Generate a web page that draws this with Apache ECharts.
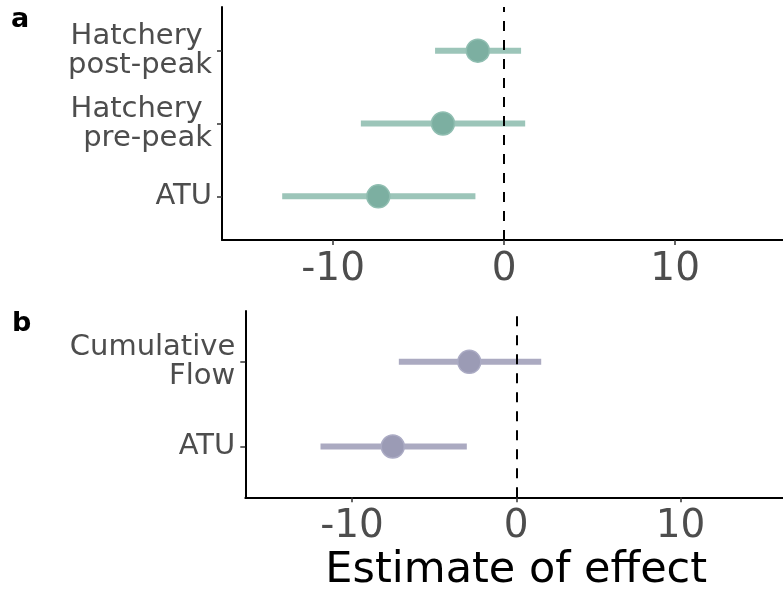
<!DOCTYPE html>
<html>
<head>
<meta charset="utf-8">
<script src="https://cdn.jsdelivr.net/npm/echarts@6/dist/echarts.min.js"></script>
<style>
  html, body { margin: 0; padding: 0; background: #fff; }
  #chart { width: 783px; height: 590px; }
</style>
</head>
<body>
<div id="chart"></div>
<script>
// Panel a: hatchery timing and ATU effects (bottom to top)
const catsA = ['ATU', 'Hatchery \npre-peak', 'Hatchery \npost-peak'];
const estA  = [-7.36, -3.58, -1.54];
const lowA  = [-12.98, -8.38, -4.04];
const highA = [-1.68, 1.23, 0.99];

// Panel b: flow and ATU effects (bottom to top)
const catsB = ['ATU', 'Cumulative\nFlow'];
const estB  = [-7.52, -2.86];
const lowB  = [-11.92, -7.15];
const highB = [-3.01, 1.52];

const xTicks = [-10, 0, 10];

const FONT = 'DejaVu Sans';

function xAxisFor(idx, extra) {
  return Object.assign({
    gridIndex: idx, type: 'value', min: -16.5, max: 16.5,
    axisLine: { show: true, onZero: false, lineStyle: { color: '#000', width: 2 } },
    axisTick: { show: true, customValues: xTicks, length: 5, lineStyle: { color: '#333', width: 1.5 } },
    axisLabel: { customValues: xTicks, fontSize: 39, color: '#4d4d4d', margin: 10, fontFamily: FONT },
    splitLine: { show: false }
  }, extra || {});
}

function yAxisFor(idx, cats) {
  const vals = cats.map((c, i) => i + 1);
  return {
    gridIndex: idx, type: 'value', min: 0.4, max: cats.length + 0.6,
    axisLine: { show: true, onZero: false, lineStyle: { color: '#000', width: 2 } },
    axisTick: { show: true, customValues: vals, length: 5, lineStyle: { color: '#333', width: 1.5 } },
    axisLabel: {
      customValues: vals,
      formatter: v => cats[Math.round(v) - 1],
      fontSize: 29, lineHeight: 29, color: '#4d4d4d', margin: 10, fontFamily: FONT, align: 'right',
      padding: [4, 0, 0, 0]
    },
    splitLine: { show: false }
  };
}

function intervalSeries(idx, low, high, color) {
  return {
    type: 'custom', xAxisIndex: idx, yAxisIndex: idx, silent: true, z: 2,
    data: low.map((l, i) => [l, high[i], i + 1]),
    encode: { x: [0, 1], y: 2 },
    renderItem: (params, api) => {
      const p1 = api.coord([api.value(0), api.value(2)]);
      const p2 = api.coord([api.value(1), api.value(2)]);
      return {
        type: 'line',
        shape: { x1: p1[0], y1: p1[1], x2: p2[0], y2: p2[1] },
        style: { stroke: color, lineWidth: 6, lineCap: 'butt' }
      };
    }
  };
}

function pointSeries(idx, est, fill, border) {
  return {
    type: 'scatter', xAxisIndex: idx, yAxisIndex: idx, silent: true, z: 3,
    data: est.map((v, i) => [v, i + 1]),
    symbol: 'circle', symbolSize: 23,
    itemStyle: { color: fill, borderColor: border, borderWidth: 1.5, opacity: 1 },
    markLine: {
      silent: true, symbol: ['none', 'none'],
      label: { show: false },
      lineStyle: { color: '#000', width: 2, type: [10, 9] },
      data: [{ xAxis: 0 }]
    }
  };
}

const chart = echarts.init(document.getElementById('chart'), null, { renderer: 'canvas' });
chart.setOption({
  animation: false,
  backgroundColor: '#fff',
  textStyle: { fontFamily: FONT },
  grid: [
    { left: 222, top: 7, width: 564.3, height: 233, outerBoundsMode: 'none' },
    { left: 245.3, top: 311, width: 541.9, height: 186.3, outerBoundsMode: 'none' }
  ],
  xAxis: [
    xAxisFor(0),
    xAxisFor(1, {
      name: 'Estimate of effect', nameLocation: 'middle', nameGap: 52,
      nameTextStyle: { fontSize: 43, color: '#000', fontFamily: FONT }
    })
  ],
  yAxis: [yAxisFor(0, catsA), yAxisFor(1, catsB)],
  graphic: [
    { type: 'text', left: 11, top: 6, style: { text: 'a', font: 'bold 27px "DejaVu Sans"', fill: '#000' } },
    { type: 'text', left: 12, top: 310, style: { text: 'b', font: 'bold 27px "DejaVu Sans"', fill: '#000' } }
  ],
  series: [
    intervalSeries(0, lowA, highA, '#9cc5b9'),
    pointSeries(0, estA, '#7cafa1', '#90beb1'),
    intervalSeries(1, lowB, highB, '#abaac1'),
    pointSeries(1, estB, '#9b9bb5', '#ababc4')
  ]
});
</script>
</body>
</html>
